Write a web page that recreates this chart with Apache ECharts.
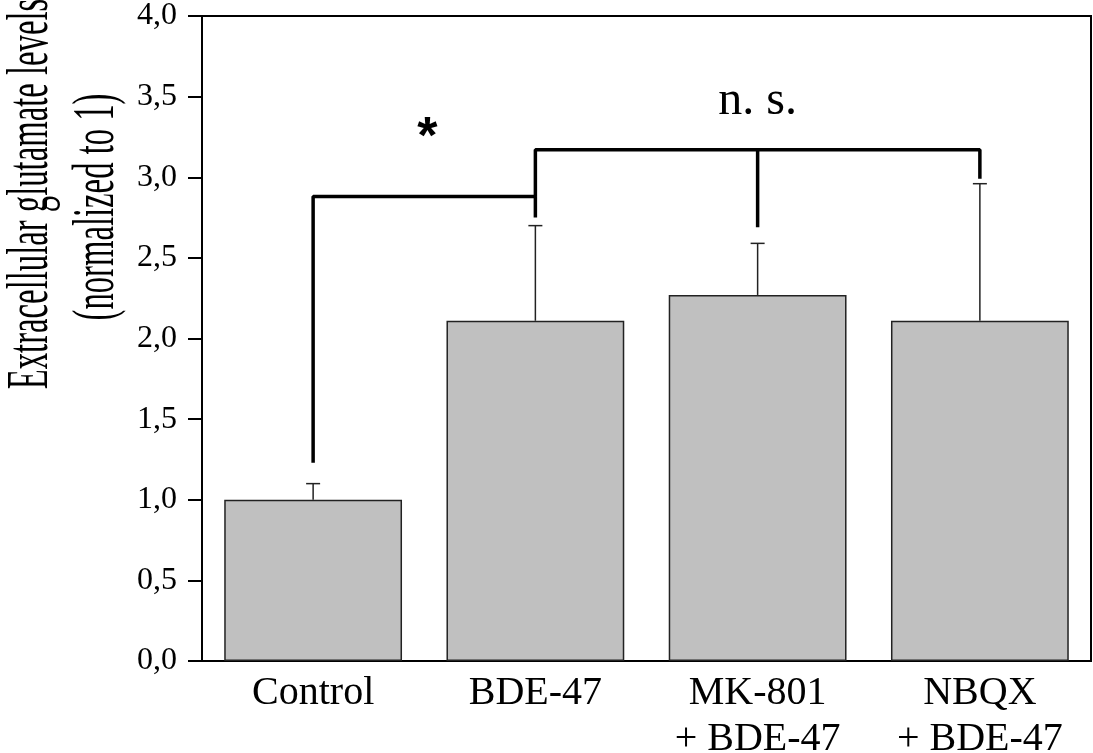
<!DOCTYPE html>
<html>
<head>
<meta charset="utf-8">
<script src="https://cdn.jsdelivr.net/npm/echarts@6/dist/echarts.min.js"></script>
<style>
  html, body { margin: 0; padding: 0; background: #fff; }
  #chart { width: 1093px; height: 753px; }
</style>
</head>
<body>
<div id="chart"></div>
<script>
// data
const categories = ["Control", "BDE-47", "MK-801\n+ BDE-47", "NBQX\n+ BDE-47"];
const means = [1.0, 2.11, 2.27, 2.11];
const upperErr = [1.10, 2.70, 2.59, 2.96];

// significance brackets [category index, level]
const bracketStar = [[0, 1.23], [0, 2.88], [1, 2.88], [1, 2.75]];
const bracketNs = [[1, 2.88], [1, 3.17], [3, 3.17], [3, 2.99]];
const bracketNsDrop = [[2, 3.17], [2, 2.69]];

const serif = "Liberation Serif";
const chart = echarts.init(document.getElementById("chart"));

function toCat(pts) {
  return pts.map(p => [categories[p[0]], p[1]]);
}

const bracketStyle = {
  type: "line",
  symbol: "none",
  silent: true,
  z: 4,
  animation: false,
  lineStyle: { color: "#000", width: 3.5 },
};

const option = {
  animation: false,
  grid: {
    left: 202,
    right: 2,
    top: 16,
    bottom: 92,
    outerBoundsMode: "none",
    containLabel: false,
    show: true,
    borderColor: "#000",
    borderWidth: 2,
  },
  xAxis: {
    type: "category",
    data: categories,
    axisLine: { lineStyle: { color: "#000", width: 2 } },
    axisTick: { show: false },
    axisLabel: {
      color: "#000",
      fontFamily: serif,
      fontSize: 40,
      lineHeight: 46,
      margin: 9,
      interval: 0,
    },
  },
  yAxis: {
    type: "value",
    min: 0,
    max: 4,
    interval: 0.5,
    splitLine: { show: false },
    axisLine: { show: true, lineStyle: { color: "#000", width: 2 } },
    axisTick: { show: true, length: 14, lineStyle: { color: "#000", width: 2 } },
    axisLabel: {
      color: "#000",
      fontFamily: serif,
      fontSize: 32,
      margin: 25,
      formatter: v => v.toFixed(1).replace(".", ","),
    },
  },
  series: [
    {
      type: "bar",
      data: means,
      barWidth: "80%",
      itemStyle: { color: "#c0c0c0", borderColor: "#222", borderWidth: 1.5 },
    },
    {
      type: "custom",
      z: 3,
      data: means.map((m, i) => [i, m, upperErr[i]]),
      renderItem: function (params, api) {
        const base = api.coord([api.value(0), api.value(1)]);
        const top = api.coord([api.value(0), api.value(2)]);
        const st = { stroke: "#222", lineWidth: 1.5 };
        return {
          type: "group",
          children: [
            { type: "line", shape: { x1: base[0], y1: base[1], x2: top[0], y2: top[1] }, style: st },
            { type: "line", shape: { x1: top[0] - 7, y1: top[1], x2: top[0] + 7, y2: top[1] }, style: st },
          ],
        };
      },
    },
    Object.assign({ data: toCat(bracketStar) }, bracketStyle),
    Object.assign({ data: toCat(bracketNs) }, bracketStyle),
    Object.assign({ data: toCat(bracketNsDrop) }, bracketStyle),
  ],
};

chart.setOption(option);

// annotation positions derived from the axes
const pStarL = chart.convertToPixel({ seriesIndex: 0 }, [0, 3.3]);
const pStarR = chart.convertToPixel({ seriesIndex: 0 }, [1, 3.3]);
const pNs = chart.convertToPixel({ seriesIndex: 0 }, [2, 3.5]);

chart.setOption({
  graphic: [
    {
      type: "text",
      x: (pStarL[0] + pStarR[0]) / 2 + 3,
      y: pStarL[1] + 10,
      style: {
        text: "*",
        font: "bold 52px 'Liberation Sans'",
        fill: "#000",
        align: "center",
        verticalAlign: "middle",
      },
    },
    {
      type: "text",
      x: pNs[0],
      y: pNs[1] + 5,
      style: {
        text: "n. s.",
        font: "48px 'Liberation Serif'",
        fill: "#000",
        align: "center",
        verticalAlign: "middle",
      },
    },
    {
      type: "text",
      x: 31,
      y: 194,
      rotation: Math.PI / 2,
      scaleX: 0.545,
      style: {
        text: "Extracellular glutamate levels",
        font: "60px 'Liberation Serif'",
        fill: "#000",
        align: "center",
        verticalAlign: "middle",
      },
    },
    {
      type: "text",
      x: 97,
      y: 207,
      rotation: Math.PI / 2,
      scaleX: 0.545,
      style: {
        text: "(normalized to 1)",
        font: "60px 'Liberation Serif'",
        fill: "#000",
        align: "center",
        verticalAlign: "middle",
      },
    },
  ],
});
</script>
</body>
</html>
